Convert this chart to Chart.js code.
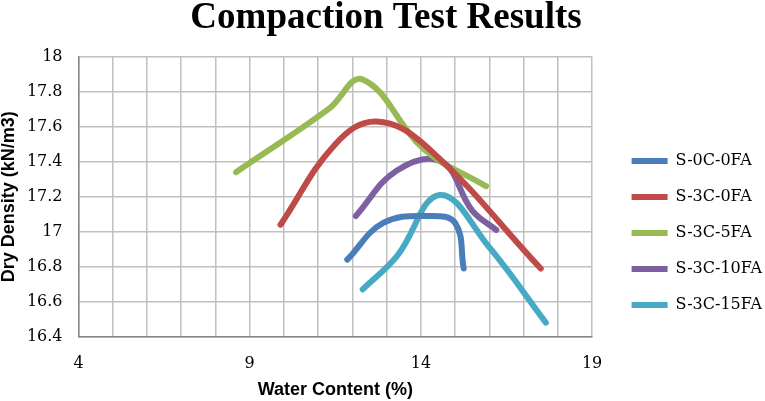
<!DOCTYPE html>
<html>
<head>
<meta charset="utf-8">
<script src="https://cdn.jsdelivr.net/npm/chart.js@4"></script>
<style>
  html, body { margin: 0; padding: 0; background: #fff; }
  #wrap { width: 765px; height: 401px; }
</style>
</head>
<body>
<div id="wrap"><canvas id="compChart" width="765" height="401"></canvas></div>
<script>
// series names and colours
const seriesNames = ['S-0C-0FA', 'S-3C-0FA', 'S-3C-5FA', 'S-3C-10FA', 'S-3C-15FA'];
const seriesColors = ['#4A7EBB', '#BE4B48', '#98B954', '#7D60A0', '#46AAC5'];

// water content (%) per series
const water_0C0FA  = [11.85, 12.9, 14.2, 15.0, 15.25];
const water_3C0FA  = [9.9, 11.5, 12.7, 14.2, 17.5];
const water_3C5FA  = [8.6, 11.3, 12.3, 14.1, 15.9];
const water_3C10FA = [12.1, 13.3, 14.6, 15.5, 16.2];
const water_3C15FA = [12.3, 13.3, 14.55, 16.0, 17.65];

// dry density (kN/m3) per series
const dens_0C0FA  = [16.84, 17.05, 17.09, 17.05, 16.79];
const dens_3C0FA  = [17.04, 17.5, 17.63, 17.48, 16.79];
const dens_3C5FA  = [17.34, 17.7, 17.87, 17.47, 17.26];
const dens_3C10FA = [17.09, 17.35, 17.4, 17.12, 17.01];
const dens_3C15FA = [16.67, 16.86, 17.21, 16.91, 16.48];

const xTickLabels = [4, 9, 14, 19];
const yTickLabels = [16.4, 16.6, 16.8, 17, 17.2, 17.4, 17.6, 17.8, 18];

const waterSets = [water_0C0FA, water_3C0FA, water_3C5FA, water_3C10FA, water_3C15FA];
const densSets = [dens_0C0FA, dens_3C0FA, dens_3C5FA, dens_3C10FA, dens_3C15FA];

const datasets = seriesNames.map((name, i) => ({
    label: name,
    data: waterSets[i].map((w, j) => ({ x: w, y: densSets[i][j] })),
    borderColor: seriesColors[i],
    backgroundColor: seriesColors[i],
    borderWidth: 6,
    borderCapStyle: 'round',
    borderJoinStyle: 'round',
    pointRadius: 0,
    tension: 0.4,
    fill: false
}));

const gridColor = '#C0C0C0';
const axisColor = '#868686';
const tickFont = { family: 'DejaVu Serif', size: 16 };

new Chart(document.getElementById('compChart').getContext('2d'), {
    type: 'line',
    data: { datasets: datasets },
    options: {
        responsive: false,
        animation: false,
        layout: { padding: { left: 0, top: 0, bottom: 0, right: -7 } },
        scales: {
            x: {
                type: 'linear',
                min: 4, max: 19,
                afterFit: s => { s.height = 64.3; },
                ticks: {
                    stepSize: 1,
                    autoSkip: false,
                    maxRotation: 0,
                    padding: 18,
                    color: '#000',
                    font: tickFont,
                    callback: v => xTickLabels.includes(v) ? String(v) : ''
                },
                grid: { color: gridColor, lineWidth: 1.5, drawTicks: false },
                border: { color: axisColor, width: 1.5 },
                title: {
                    display: true,
                    text: 'Water Content (%)',
                    color: '#000',
                    font: { family: 'Liberation Sans', size: 18, weight: 'bold', lineHeight: 1.2 },
                    padding: { top: 4, bottom: 0.5 }
                }
            },
            y: {
                min: 16.4, max: 18,
                afterFit: s => { s.width = 78.5; },
                afterBuildTicks: axis => { axis.ticks = yTickLabels.map(v => ({ value: v })); },
                ticks: {
                    padding: 16,
                    color: '#000',
                    font: tickFont,
                    callback: v => String(parseFloat(v.toFixed(1)))
                },
                grid: { color: gridColor, lineWidth: 1.5, drawTicks: false },
                border: { color: axisColor, width: 1.5 },
                title: {
                    display: true,
                    text: 'Dry Density (kN/m3)',
                    color: '#000',
                    font: { family: 'Liberation Sans', size: 18, weight: 'bold', lineHeight: 1 },
                    padding: { top: 0, bottom: 0 }
                }
            },
            // empty spacer between the plot and the legend
            gap: {
                position: 'right',
                display: true,
                afterFit: s => { s.width = 19.5; },
                ticks: { display: false },
                grid: { display: false, drawTicks: false },
                border: { display: false }
            }
        },
        plugins: {
            title: {
                display: true,
                text: 'Compaction Test Results',
                color: '#000',
                font: { family: 'Liberation Serif', size: 37, weight: 'bold', lineHeight: 1 },
                padding: { top: 0, bottom: 19.7 }
            },
            legend: {
                position: 'right',
                maxWidth: 220,
                title: {
                    display: true,
                    text: ' ',
                    font: { size: 1, lineHeight: 1 },
                    padding: { top: 0, bottom: 64 }
                },
                labels: {
                    usePointStyle: true,
                    pointStyle: 'line',
                    pointStyleWidth: 36,
                    boxHeight: 16,
                    padding: 20,
                    color: '#000',
                    font: { family: 'DejaVu Serif', size: 16 }
                }
            },
            tooltip: { enabled: false }
        }
    }
});
</script>
</body>
</html>
